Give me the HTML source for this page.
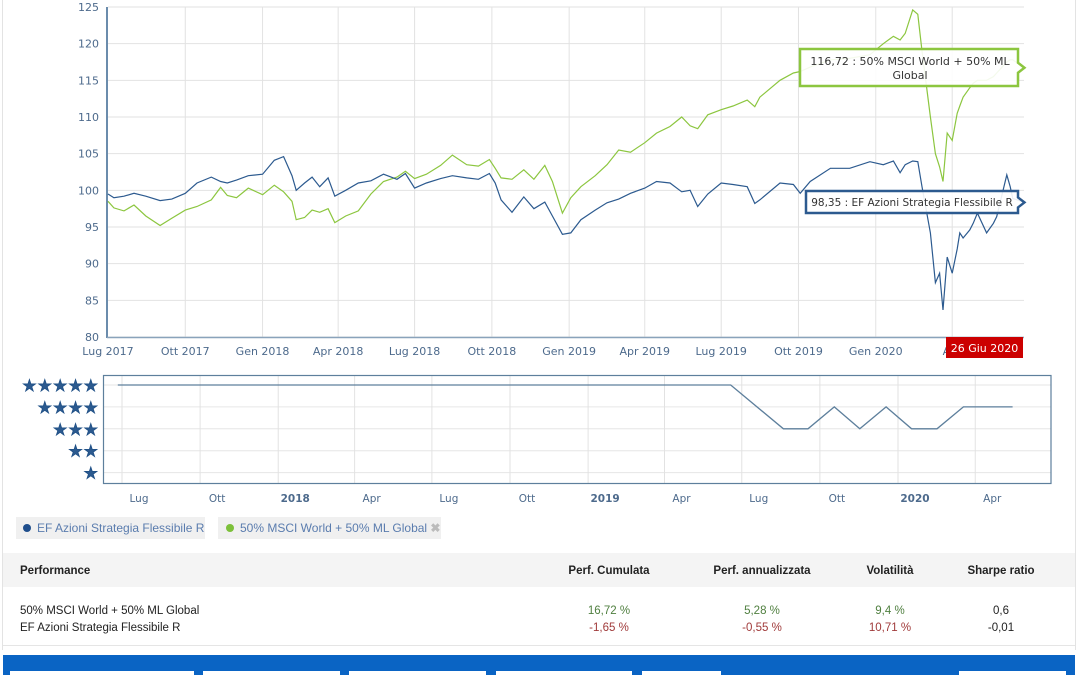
<!DOCTYPE html>
<html><head><meta charset="utf-8"><style>
body{margin:0;width:1080px;height:675px;overflow:hidden;background:#fff;font-family:"Liberation Sans",sans-serif;position:relative}
.abs{position:absolute}
svg text{font-family:"DejaVu Sans",sans-serif}
.tb{font-size:12px;color:#222}
</style></head><body>
<div class="abs" style="left:2px;top:0;width:1px;height:650px;background:#e3e3e3"></div>
<div class="abs" style="left:1075px;top:0;width:1px;height:650px;background:#e3e3e3"></div>
<svg class="abs" style="left:0;top:0" width="1080" height="545">
<g id="main"></g>
<g id="rating"></g>
</svg>
<div class="abs" style="left:16px;top:517px;width:189px;height:22px;background:#f0f0f0;font-size:12px;color:#5a7cae;line-height:22px"><span style="display:inline-block;width:8px;height:8px;border-radius:4px;background:#1f4e8c;margin:0 6px 0 7px"></span>EF Azioni Strategia Flessibile R</div>
<div class="abs" style="left:218px;top:517px;width:223px;height:22px;background:#f0f0f0;font-size:12px;color:#5a7cae;line-height:22px"><span style="display:inline-block;width:8px;height:8px;border-radius:4px;background:#7cc03a;margin:0 6px 0 8px"></span>50% MSCI World + 50% ML Global <span style="color:#bbb;font-weight:bold">✖</span></div>
<div class="abs" style="left:3px;top:553px;width:1072px;height:92px;border-bottom:1px solid #e5e5e5">
<div class="abs" style="left:0;top:0;width:1072px;height:34px;background:#f4f4f4"></div>
<div class="abs tb" style="left:17px;top:12px;font-weight:bold;font-size:11.5px">Performance</div>
<div class="abs tb" style="left:556px;width:100px;text-align:center;top:12px;font-weight:bold;font-size:11.5px">Perf. Cumulata</div>
<div class="abs tb" style="left:699px;width:120px;text-align:center;top:12px;font-weight:bold;font-size:11.5px">Perf. annualizzata</div>
<div class="abs tb" style="left:847px;width:80px;text-align:center;top:12px;font-weight:bold;font-size:11.5px">Volatilità</div>
<div class="abs tb" style="left:958px;width:80px;text-align:center;top:12px;font-weight:bold;font-size:11.5px">Sharpe ratio</div>
<div class="abs tb" style="left:17px;top:52px;font-size:11.5px">50% MSCI World + 50% ML Global</div>
<div class="abs tb" style="left:556px;width:100px;text-align:center;top:52px;color:#4f7f3f;font-size:11.5px">16,72 %</div>
<div class="abs tb" style="left:699px;width:120px;text-align:center;top:52px;color:#4f7f3f;font-size:11.5px">5,28 %</div>
<div class="abs tb" style="left:847px;width:80px;text-align:center;top:52px;color:#4f7f3f;font-size:11.5px">9,4 %</div>
<div class="abs tb" style="left:958px;width:80px;text-align:center;top:52px;font-size:11.5px">0,6</div>
<div class="abs tb" style="left:17px;top:69px;font-size:11.5px">EF Azioni Strategia Flessibile R</div>
<div class="abs tb" style="left:556px;width:100px;text-align:center;top:69px;color:#a03a3a;font-size:11.5px">-1,65 %</div>
<div class="abs tb" style="left:699px;width:120px;text-align:center;top:69px;color:#a03a3a;font-size:11.5px">-0,55 %</div>
<div class="abs tb" style="left:847px;width:80px;text-align:center;top:69px;color:#a03a3a;font-size:11.5px">10,71 %</div>
<div class="abs tb" style="left:958px;width:80px;text-align:center;top:69px;font-size:11.5px">-0,01</div>
</div>
<div class="abs" style="left:3px;top:655px;width:1072px;height:20px;background:#0a64c4">
<div class="abs" style="left:7px;top:16px;width:184px;height:6px;background:#fff"></div>
<div class="abs" style="left:200px;top:16px;width:137px;height:6px;background:#fff"></div>
<div class="abs" style="left:346px;top:16px;width:137px;height:6px;background:#fff"></div>
<div class="abs" style="left:493px;top:16px;width:136px;height:6px;background:#fff"></div>
<div class="abs" style="left:639px;top:16px;width:79px;height:6px;background:#fff"></div>
<div class="abs" style="left:956px;top:16px;width:107px;height:6px;background:#fff"></div>
</div>
<script>
const dates=["2017-07-01","2017-07-08","2017-07-20","2017-08-01","2017-08-15","2017-09-01","2017-09-15","2017-10-01","2017-10-15","2017-11-01","2017-11-12","2017-11-20","2017-12-01","2017-12-15","2018-01-01","2018-01-15","2018-01-26","2018-02-05","2018-02-10","2018-02-20","2018-03-01","2018-03-10","2018-03-20","2018-03-28","2018-04-10","2018-04-25","2018-05-10","2018-05-25","2018-06-10","2018-06-20","2018-07-01","2018-07-15","2018-08-01","2018-08-15","2018-09-01","2018-09-15","2018-09-28","2018-10-05","2018-10-12","2018-10-25","2018-11-08","2018-11-20","2018-12-03","2018-12-12","2018-12-24","2019-01-03","2019-01-15","2019-02-01","2019-02-15","2019-03-01","2019-03-15","2019-04-01","2019-04-15","2019-05-01","2019-05-15","2019-05-25","2019-06-03","2019-06-15","2019-07-01","2019-07-15","2019-08-01","2019-08-10","2019-08-16","2019-09-09","2019-09-25","2019-10-03","2019-10-15","2019-11-08","2019-12-01","2019-12-25","2020-01-10","2020-01-22","2020-01-30","2020-02-05","2020-02-14","2020-02-20","2020-02-25","2020-03-06","2020-03-12","2020-03-17","2020-03-21","2020-03-26","2020-04-01","2020-04-07","2020-04-10","2020-04-14","2020-04-22","2020-04-26","2020-05-01","2020-05-12","2020-05-20","2020-05-24","2020-06-05","2020-06-09","2020-06-12","2020-06-26"];
const efValues=[99.5,99.0,99.2,99.6,99.2,98.6,98.8,99.6,101.0,101.8,101.2,101.0,101.4,102.0,102.2,104.1,104.6,102.0,100.0,101.0,101.8,100.5,101.7,99.2,100.0,101.0,101.3,102.2,101.5,102.3,100.3,101.0,101.6,102.0,101.7,101.5,102.3,101.0,98.7,97.0,99.1,97.5,98.4,96.5,94.0,94.2,96.0,97.3,98.3,98.8,99.6,100.3,101.2,101.0,99.8,100.0,97.8,99.5,101.0,100.8,100.5,98.2,98.7,101.0,100.8,99.6,101.2,103.0,103.0,103.9,103.5,104.0,102.4,103.5,104.0,103.9,100.5,94.2,87.4,88.7,83.7,90.9,88.7,92.0,94.2,93.5,94.6,95.5,96.9,94.2,95.5,96.4,102.1,100.5,98.9,98.35];
const benchValues=[98.5,97.6,97.2,98.0,96.5,95.2,96.2,97.3,97.8,98.7,100.4,99.3,99.0,100.3,99.4,100.7,99.8,98.5,96.0,96.3,97.3,97.0,97.5,95.6,96.5,97.2,99.5,101.2,101.8,102.6,101.6,102.2,103.4,104.8,103.5,103.3,104.2,103.0,101.7,101.5,102.8,101.5,103.4,101.2,96.9,99.0,100.5,102.0,103.5,105.5,105.2,106.5,107.8,108.7,110.0,108.8,108.4,110.3,111.0,111.5,112.3,111.4,112.7,115.0,116.0,116.2,116.8,117.8,118.0,118.5,120.0,121.0,120.5,121.4,124.6,124.0,119.0,110.0,105.0,103.2,101.2,107.8,106.8,110.5,111.5,112.7,114.0,114.6,115.0,115.0,115.5,116.0,117.5,117.8,117.8,116.72];
const yTicks=[80,85,90,95,100,105,110,115,120,125];
const xTickDates=["2017-07-01","2017-10-01","2018-01-01","2018-04-01","2018-07-01","2018-10-01","2019-01-01","2019-04-01","2019-07-01","2019-10-01","2020-01-01","2020-04-01"];
const xTickLabels=["Lug 2017","Ott 2017","Gen 2018","Apr 2018","Lug 2018","Ott 2018","Gen 2019","Apr 2019","Lug 2019","Ott 2019","Gen 2020","Apr"];
const ratingDates=["2017-06-26","2019-06-18","2019-08-19","2019-09-17","2019-10-18","2019-11-17","2019-12-18","2020-01-17","2020-02-16","2020-03-18","2020-05-15"];
const ratingValues=[5,5,3,3,4,3,4,3,3,4,4];
const ratingTickDates=["2017-07-01","2017-10-01","2018-01-01","2018-04-01","2018-07-01","2018-10-01","2019-01-01","2019-04-01","2019-07-01","2019-10-01","2020-01-01","2020-04-01"];
const ratingTickLabels=["Lug","Ott","2018","Apr","Lug","Ott","2019","Apr","Lug","Ott","2020","Apr"];
const lastEf="98,35", lastBench="116,72";

const NS="http://www.w3.org/2000/svg";
const D0=Date.UTC(2017,6,1);
function days(s){const p=s.split("-");return (Date.UTC(+p[0],p[1]-1,+p[2])-D0)/864e5;}
function xMain(s){return 108+days(s)*0.84;}
function yMain(v){return 7+(125-v)*(330/45);}
function xRat(s){return 122+days(s)*0.849;}
function yRat(r){return 385+(5-r)*21.9;}
function mk(p,tag,at,txt){const e=document.createElementNS(NS,tag);for(const k in at)e.setAttribute(k,at[k]);if(txt!==undefined)e.textContent=txt;p.appendChild(e);return e;}

const g=document.getElementById("main");
yTicks.forEach(v=>{
  const l=mk(g,"line",{x1:108,x2:1024,y1:yMain(v),y2:yMain(v),stroke:"#e2e2e2"});
  
  
  const t=mk(g,"text",{x:99,y:yMain(v)+4,"text-anchor":"end","font-size":11,fill:"#4d6a8c"},v);
  
  
});
xTickDates.forEach((d,i)=>{
  const x=xMain(d);
  if(i>0){const l=mk(g,"line",{x1:x,x2:x,y1:7,y2:337,stroke:"#e2e2e2"});
  
  }
  const t=mk(g,"text",{x:x,y:355,"text-anchor":"middle","font-size":11,fill:"#4d6a8c"},xTickLabels[i]);
  
  
});
const ax=mk(g,"line",{x1:107,x2:107,y1:7,y2:338,stroke:"#3a6690","stroke-width":1.5});


const bx=mk(g,"line",{x1:107,x2:1024,y1:337.5,y2:337.5,stroke:"#8aa3bb","stroke-width":1.5});


function pts(vals,xf){return dates.map((d,i)=>xf(d).toFixed(1)+","+yMain(vals[i]).toFixed(1)).join(" ");}
const gl=mk(g,"polyline",{points:pts(benchValues,xMain),fill:"none",stroke:"#8cc63f","stroke-width":1.2});


const bl=mk(g,"polyline",{points:pts(efValues,xMain),fill:"none",stroke:"#2c5a8f","stroke-width":1.2});



const lx=xMain(dates[dates.length-1]);
const yb=yMain(benchValues[benchValues.length-1]), ye=yMain(efValues[efValues.length-1]);
const tg=mk(g,"g",{});


mk(tg,"path",{d:`M800,49 H1018 V${yb-5} L${lx},${yb} L1018,${yb+5} V86 H800 Z`,fill:"rgba(255,255,255,0.9)",stroke:"#8cc63f","stroke-width":2.5});
mk(tg,"text",{x:910,y:65,"text-anchor":"middle","font-size":11,fill:"#333"},lastBench+" : 50% MSCI World + 50% ML");
mk(tg,"text",{x:910,y:79,"text-anchor":"middle","font-size":11,fill:"#333"},"Global");
const te=mk(g,"g",{});


mk(te,"path",{d:`M806,191 H1018 V${ye-5} L${lx},${ye} L1018,${ye+5} V213 H806 Z`,fill:"rgba(255,255,255,0.9)",stroke:"#2c5a8f","stroke-width":2.5});
mk(te,"text",{x:912,y:206,"text-anchor":"middle","font-size":10.5,fill:"#333"},lastEf+" : EF Azioni Strategia Flessibile R");
const rd=mk(g,"g",{});


mk(rd,"rect",{x:946,y:337,width:77,height:21,fill:"#cc0000"});
mk(rd,"text",{x:984.5,y:352,"text-anchor":"middle","font-size":11,fill:"#fff"},"26 Giu 2020");

const r=document.getElementById("rating");
[5,4,3,2,1].forEach(v=>{
  const l=mk(r,"line",{x1:104,x2:1051,y1:yRat(v),y2:yRat(v),stroke:"#e6e6e6"});
  
  
  const t=mk(r,"text",{x:99,y:yRat(v)+6,"text-anchor":"end","font-size":16,fill:"#2c5a8f",stroke:"#1e4f86","stroke-width":0.8,"letter-spacing":"1"},"★".repeat(v));
  
  
});
ratingTickDates.forEach((d,i)=>{
  const x=xRat(d);
  const l=mk(r,"line",{x1:x,x2:x,y1:376,y2:483,stroke:"#e2e2e2"});
  
  
  const bold=/^\d{4}$/.test(ratingTickLabels[i]);
  const t=mk(r,"text",{x:x+17,y:502,"text-anchor":"middle","font-size":10.5,fill:"#4d6a8c","font-weight":bold?"bold":"normal"},ratingTickLabels[i]);
  
  
});
const rb=mk(r,"rect",{x:103.5,y:375.5,width:947.5,height:108,fill:"none",stroke:"#5d7f9c","stroke-width":1.2});


const rl=mk(r,"polyline",{points:ratingDates.map((d,i)=>xRat(d).toFixed(1)+","+yRat(ratingValues[i]).toFixed(1)).join(" "),fill:"none",stroke:"#5d7f9c","stroke-width":1.3});


</script>
</body></html>
